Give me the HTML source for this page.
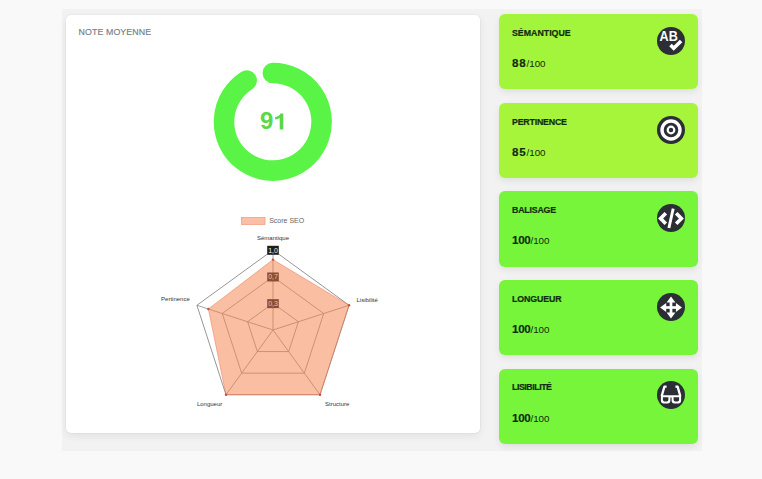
<!DOCTYPE html>
<html><head><meta charset="utf-8"><style>
html,body{margin:0;padding:0;}
body{width:762px;height:479px;background:#f9f9f9;position:relative;overflow:hidden;font-family:"Liberation Sans",sans-serif;}
.band{position:absolute;left:62px;top:8.8px;width:640px;height:442.2px;background:#f2f2f3;}
.wcard{position:absolute;left:65.7px;top:14.6px;width:414.8px;height:418.3px;background:#fff;border-radius:5px;box-shadow:0 0 0 0.6px rgba(0,0,0,0.05),0 3px 8px rgba(0,0,0,0.07);}
.wcard .h{position:absolute;left:12.9px;top:13.8px;font-size:8.8px;color:#777c84;letter-spacing:0.1px;line-height:1;-webkit-text-stroke:0.15px #777c84;}
.chart{position:absolute;left:0;top:0;}
.gcard{position:absolute;left:499px;width:198.5px;height:75.3px;border-radius:6px;box-shadow:0 3px 7px rgba(0,0,0,0.08);}
.gcard .ttl{position:absolute;left:13px;top:14.8px;font-size:8.8px;font-weight:bold;color:#112c0d;line-height:1;-webkit-text-stroke:0.2px #112c0d;}
.gcard .score{position:absolute;left:13px;top:43.1px;font-size:11.6px;color:#112c0d;line-height:1;white-space:nowrap;}
.gcard .score b{font-size:11.6px;-webkit-text-stroke:0.15px #112c0d;}
.gcard .score span{font-size:9.8px;}
.gcard .icon{position:absolute;left:158px;top:12.8px;}
</style></head><body>
<div class="band"></div>
<div class="wcard"><div class="h">NOTE MOYENNE</div></div>
<svg class="chart" width="762" height="479" viewBox="0 0 762 479" font-family="Liberation Sans, sans-serif">
<path d="M272.80,73.00 A48.8,48.8 0 1 1 246.65,80.60" fill="none" stroke="#5af447" stroke-width="20.5" stroke-linecap="round"/>
<text x="259.9" y="129.2" font-size="24" font-weight="bold" fill="#5ad84a">9</text><path d="M279.7,129.5 L283.3,129.5 L283.3,113.4 L280.4,113.4 Q279.6,116.3 275.1,116.9 L275.1,119.6 Q278.1,119.4 279.7,118.1 Z" fill="#5ad84a"/>
<rect x="241.5" y="217.5" width="23.5" height="7" fill="#fbbfa6" stroke="#f0a088" stroke-width="0.8"/><text x="269.2" y="223.4" font-size="7" fill="#666">Score SEO</text>
<polygon points="273.00,303.33 298.36,321.76 288.67,351.57 257.33,351.57 247.64,321.76" fill="none" stroke="#8c8c8c" stroke-width="0.8"/><polygon points="273.00,276.67 323.72,313.52 304.35,373.15 241.65,373.15 222.28,313.52" fill="none" stroke="#8c8c8c" stroke-width="0.8"/><polygon points="273.00,250.00 349.08,305.28 320.02,394.72 225.98,394.72 196.92,305.28" fill="none" stroke="#8a8a8a" stroke-width="0.9"/><line x1="273" y1="330" x2="273.00" y2="250.00" stroke="#8c8c8c" stroke-width="0.8"/><line x1="273" y1="330" x2="349.08" y2="305.28" stroke="#8c8c8c" stroke-width="0.8"/><line x1="273" y1="330" x2="320.02" y2="394.72" stroke="#8c8c8c" stroke-width="0.8"/><line x1="273" y1="330" x2="225.98" y2="394.72" stroke="#8c8c8c" stroke-width="0.8"/><line x1="273" y1="330" x2="196.92" y2="305.28" stroke="#8c8c8c" stroke-width="0.8"/>
<rect x="267.20" y="245.80" width="11.6" height="9" fill="#1e1e1e"/><text x="273" y="252.70" font-size="7" fill="#f4f4f4" text-anchor="middle">1,0</text><rect x="267.20" y="272.47" width="11.6" height="9" fill="#1e1e1e"/><text x="273" y="279.37" font-size="7" fill="#f4f4f4" text-anchor="middle">0,7</text><rect x="267.20" y="299.13" width="11.6" height="9" fill="#1e1e1e"/><text x="273" y="306.03" font-size="7" fill="#f4f4f4" text-anchor="middle">0,3</text>
<polygon points="273.00,259.60 349.08,305.28 320.02,394.72 225.98,394.72 208.33,308.99" fill="rgba(245,125,72,0.5)" stroke="rgba(232,112,75,0.6)" stroke-width="0.75"/><circle cx="273.00" cy="259.60" r="1.2" fill="#c8503a"/><circle cx="349.08" cy="305.28" r="1.2" fill="#c8503a"/><circle cx="320.02" cy="394.72" r="1.2" fill="#c8503a"/><circle cx="225.98" cy="394.72" r="1.2" fill="#c8503a"/><circle cx="208.33" cy="308.99" r="1.2" fill="#c8503a"/>
<text x="273" y="240.4" font-size="6" fill="#333" text-anchor="middle">Sémantique</text><text x="356.5" y="301.5" font-size="6" fill="#333" text-anchor="start">Lisibilité</text><text x="325" y="406" font-size="6" fill="#333" text-anchor="start">Structure</text><text x="196.9" y="406" font-size="6" fill="#333" text-anchor="start">Longueur</text><text x="189.75" y="301.3" font-size="6" fill="#333" text-anchor="end">Pertinence</text>
</svg>
<div class="gcard" style="top:14.2px;background:#a3f53b">
<div class="ttl" style="letter-spacing:0px">SÉMANTIQUE</div>
<div class="score"><b style="letter-spacing:0.8px">88</b><span>/100</span></div>
<svg class="icon" style="top:13.00px" width="28" height="28" viewBox="0 0 28 28"><circle cx="14" cy="14" r="14" fill="#2c2e35"/><text x="2.6" y="14.0" font-size="14" font-weight="bold" fill="#fff" textLength="18.2" lengthAdjust="spacingAndGlyphs" font-family="Liberation Sans, sans-serif">AB</text><path d="M13.5,18.0 L16.7,21.2 L24.1,14.0" fill="none" stroke="#fff" stroke-width="3.6"/></svg>
</div>
<div class="gcard" style="top:102.8px;background:#a6f53b">
<div class="ttl" style="letter-spacing:-0.2px">PERTINENCE</div>
<div class="score"><b style="letter-spacing:0.8px">85</b><span>/100</span></div>
<svg class="icon" style="top:12.97px" width="28" height="28" viewBox="0 0 28 28"><circle cx="14" cy="14" r="14" fill="#2c2e35"/><circle cx="14" cy="14" r="9" fill="none" stroke="#fff" stroke-width="3.4"/><circle cx="14" cy="14" r="3.3" fill="none" stroke="#fff" stroke-width="2.2"/></svg>
</div>
<div class="gcard" style="top:191.4px;background:#77f53b">
<div class="ttl" style="letter-spacing:-0.2px">BALISAGE</div>
<div class="score"><b style="letter-spacing:-0.3px">100</b><span>/100</span></div>
<svg class="icon" style="top:12.94px" width="28" height="28" viewBox="0 0 28 28"><circle cx="14" cy="14" r="14" fill="#2c2e35"/><path d="M8.8,9.2 L3.6,14.5 L8.8,19.8 M19.2,9.2 L24.4,14.5 L19.2,19.8" fill="none" stroke="#fff" stroke-width="3.6"/><path d="M16.2,4.6 L11.9,24" stroke="#fff" stroke-width="2.9"/></svg>
</div>
<div class="gcard" style="top:280.0px;background:#77f53b">
<div class="ttl" style="letter-spacing:-0.1px">LONGUEUR</div>
<div class="score"><b style="letter-spacing:-0.3px">100</b><span>/100</span></div>
<svg class="icon" style="top:12.91px" width="28" height="28" viewBox="0 0 28 28"><circle cx="14" cy="14" r="14" fill="#2c2e35"/><path d="M14,3.5 L18.4,9.6 L9.6,9.6 Z M14,25.4 L18.4,19.4 L9.6,19.4 Z M3.1,14.5 L9.2,10.1 L9.2,18.9 Z M25,14.5 L18.9,10.1 L18.9,18.9 Z" fill="#fff"/><rect x="12.65" y="9" width="2.7" height="11" fill="#fff"/><rect x="9" y="13.15" width="10" height="2.7" fill="#fff"/></svg>
</div>
<div class="gcard" style="top:368.6px;background:#77f53b">
<div class="ttl" style="letter-spacing:-0.45px">LISIBILITÉ</div>
<div class="score"><b style="letter-spacing:-0.3px">100</b><span>/100</span></div>
<svg class="icon" style="top:12.88px" width="28" height="28" viewBox="0 0 28 28"><circle cx="14" cy="14" r="14" fill="#2c2e35"/><path d="M9.6,5.6 L7.4,5.6 L4.7,15 M18.4,5.6 L20.6,5.6 L23.3,15" fill="none" stroke="#fff" stroke-width="2.3" stroke-linejoin="round"/><path d="M3.9,14.3 L13.4,14.3 L13.4,19.6 Q13.4,22.5 10.5,22.5 L6.8,22.5 Q3.9,22.5 3.9,19.6 Z M14.6,14.3 L24.1,14.3 L24.1,19.6 Q24.1,22.5 21.2,22.5 L17.5,22.5 Q14.6,22.5 14.6,19.6 Z M12.8,14.3 L15.2,14.3 L15.2,16.6 L12.8,16.6 Z" fill="#fff"/><path d="M5.9,16.2 L11.4,16.2 L11.4,18.8 Q11.4,20.5 9.7,20.5 L7.6,20.5 Q5.9,20.5 5.9,18.8 Z M16.6,16.2 L22.1,16.2 L22.1,18.8 Q22.1,20.5 20.4,20.5 L18.3,20.5 Q16.6,20.5 16.6,18.8 Z" fill="#2c2e35"/></svg>
</div>

</body></html>
